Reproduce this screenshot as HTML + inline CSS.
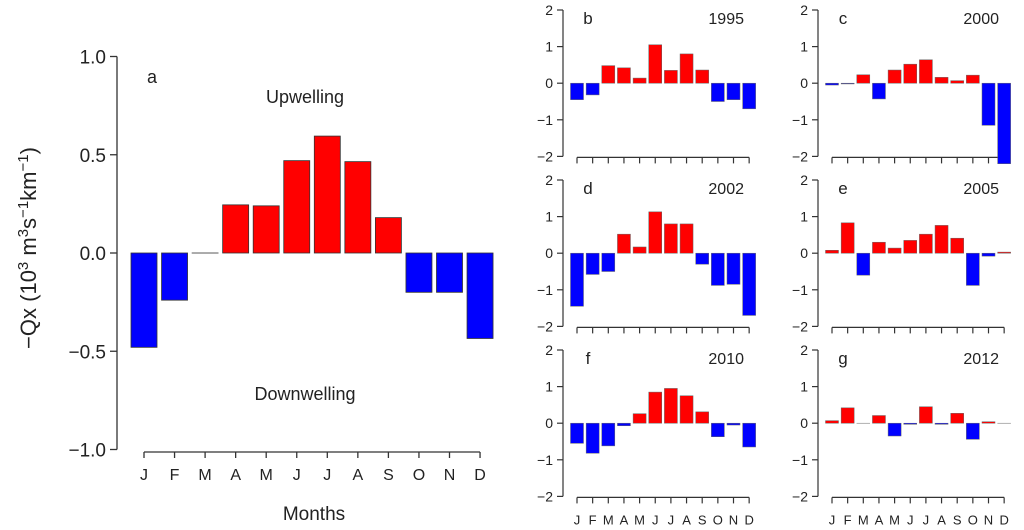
<!DOCTYPE html>
<html><head><meta charset="utf-8"><style>
html,body{margin:0;padding:0;background:#fff;}
svg{display:block;font-family:"Liberation Sans",Arial,sans-serif;}
</style></head><body>
<svg id="chart" width="1024" height="530" viewBox="0 0 1024 530" xmlns="http://www.w3.org/2000/svg"></svg>
<script>
const months = ["J","F","M","A","M","J","J","A","S","O","N","D"];
const mainValues = [-0.48,-0.24,0.0,0.245,0.24,0.47,0.595,0.465,0.18,-0.2,-0.2,-0.435];
const mainTicks = [1.0,0.5,0.0,-0.5,-1.0];
const mainTickLabels = ["1.0","0.5","0.0","\u22120.5","\u22121.0"];
const smallTicks = [2,1,0,-1,-2];
const smallTickLabels = ["2","1","0","\u22121","\u22122"];
const panelLetters = ["b","c","d","e","f","g"];
const panelYears = ["1995","2000","2002","2005","2010","2012"];
const vals1995 = [-0.45,-0.32,0.48,0.42,0.14,1.05,0.35,0.8,0.36,-0.5,-0.45,-0.7];
const vals2000 = [-0.05,-0.02,0.23,-0.43,0.36,0.52,0.64,0.16,0.07,0.22,-1.15,-2.2];
const vals2002 = [-1.45,-0.58,-0.5,0.52,0.17,1.13,0.8,0.8,-0.3,-0.88,-0.85,-1.7];
const vals2005 = [0.08,0.83,-0.6,0.3,0.14,0.35,0.52,0.76,0.41,-0.88,-0.08,0.03];
const vals2010 = [-0.55,-0.82,-0.62,-0.07,0.26,0.85,0.95,0.75,0.31,-0.37,-0.05,-0.65];
const vals2012 = [0.07,0.42,0.0,0.21,-0.35,-0.03,0.45,-0.03,0.27,-0.44,0.04,0.0];
const panelSeries = [vals1995,vals2000,vals2002,vals2005,vals2010,vals2012];

const svg = document.getElementById('chart');
const NS = "http://www.w3.org/2000/svg";
function mk(tag, attrs, parent){
  const e = document.createElementNS(NS, tag);
  for (const k in attrs) e.setAttribute(k, attrs[k]);
  (parent||svg).appendChild(e);
  return e;
}
function txt(x,y,s,size,anchor,parent){
  const t = mk('text',{x:x,y:y,'font-size':size,'text-anchor':anchor||'middle',fill:'#222'},parent);
  t.textContent = s;
  return t;
}

// ---- main panel a ----
(function(){
  const g = mk('g',{});
  
  
  const y0 = 253, k = 196.5;
  const yS = v => y0 - v*k;
  const xS = i => 144 + i*30.55;
  const bw = 26;
  const ax = mk('path',{d:`M117 ${yS(1)} V${yS(-1)}`,stroke:'#333','stroke-width':1.3,fill:'none'},g);
  
  
  mainTicks.forEach((t,i)=>{
    mk('line',{x1:110,x2:117,y1:yS(t),y2:yS(t),stroke:'#333','stroke-width':1.3},g);
    const l = txt(106,yS(t)+7,mainTickLabels[i],19,'end',g);
    
    
  });
  const xa = mk('path',{d:`M${xS(0)} 452 H${xS(11)}`,stroke:'#333','stroke-width':1.3,fill:'none'},g);
  
  
  months.forEach((m,i)=>{
    mk('line',{x1:xS(i),x2:xS(i),y1:452,y2:458,stroke:'#333','stroke-width':1.3},g);
    const l = txt(xS(i),480,m,16,'middle',g);
    
    
  });
  mainValues.forEach((v,i)=>{
    const top = Math.min(yS(v),y0), h = Math.abs(yS(v)-y0);
    const r = mk('rect',{x:xS(i)-bw/2,y:top,width:bw,height:Math.max(h,0.01),fill:v>=0?'#ff0000':'#0000ff',stroke:'#333','stroke-width':0.8},g);
    
    
  });
  const a = txt(152,83,'a',18,'middle',g);
  
  
  const up = txt(305,103,'Upwelling',18,'middle',g);
  
  
  const dn = txt(305,400,'Downwelling',18,'middle',g);
  
  
  const xt = txt(314,520,'Months',19,'middle',g);
  
  
  const yt = mk('text',{x:0,y:0,'font-size':22,'text-anchor':'middle',fill:'#222',transform:'translate(36,248) rotate(-90)'},g);
  
  
  yt.innerHTML = '\u2212Qx  (10<tspan dy="-8" font-size="15">3</tspan><tspan dy="8"> m</tspan><tspan dy="-8" font-size="15">3</tspan><tspan dy="8">s</tspan><tspan dy="-8" font-size="15">\u22121</tspan><tspan dy="8">km</tspan><tspan dy="-8" font-size="15">\u22121</tspan><tspan dy="8">)</tspan>';
})();

// ---- small panels ----
const colX = [563, 818];
const rowTop = [10, 180, 350];
panelSeries.forEach((vals,p)=>{
  const col = p%2, row = Math.floor(p/2);
  const axX = colX[col], top = rowTop[row];
  const k = 36.6;
  const y0 = top + 2*k;
  const yS = v => y0 - v*k;
  const xS = i => axX + 14 + i*15.65;
  const bw = 13;
  const g = mk('g',{});
  
  
  mk('path',{d:`M${axX} ${yS(2)} V${yS(-2)}`,stroke:'#333','stroke-width':1.2,fill:'none'},g);
  smallTicks.forEach((t,i)=>{
    mk('line',{x1:axX-6,x2:axX,y1:yS(t),y2:yS(t),stroke:'#333','stroke-width':1.2},g);
    const l = txt(axX-10,yS(t)+5,smallTickLabels[i],14,'end',g);
    
    
  });
  const axY = yS(-2)+1;
  mk('path',{d:`M${xS(0)} ${axY} H${xS(11)}`,stroke:'#333','stroke-width':1.2,fill:'none'},g);
  months.forEach((m,i)=>{
    mk('line',{x1:xS(i),x2:xS(i),y1:axY,y2:axY+6,stroke:'#333','stroke-width':1.2},g);
    if (row===2){
      const l = txt(xS(i),axY+27,m,13,'middle',g);
      
      
    }
  });
  vals.forEach((v,i)=>{
    const t = Math.min(yS(v),y0), h = Math.abs(yS(v)-y0);
    const r = mk('rect',{x:xS(i)-bw/2,y:t,width:bw,height:Math.max(h,0.01),fill:v>=0?'#ff0000':'#0000ff',stroke:'#666','stroke-width':0.5},g);
    
    
  });
  const lt = txt(axX+25,top+14,panelLetters[p],17,'middle',g);
  
  
  const yr = txt(axX+181,top+14,panelYears[p],16,'end',g);
  
  
});
</script>
</body></html>
